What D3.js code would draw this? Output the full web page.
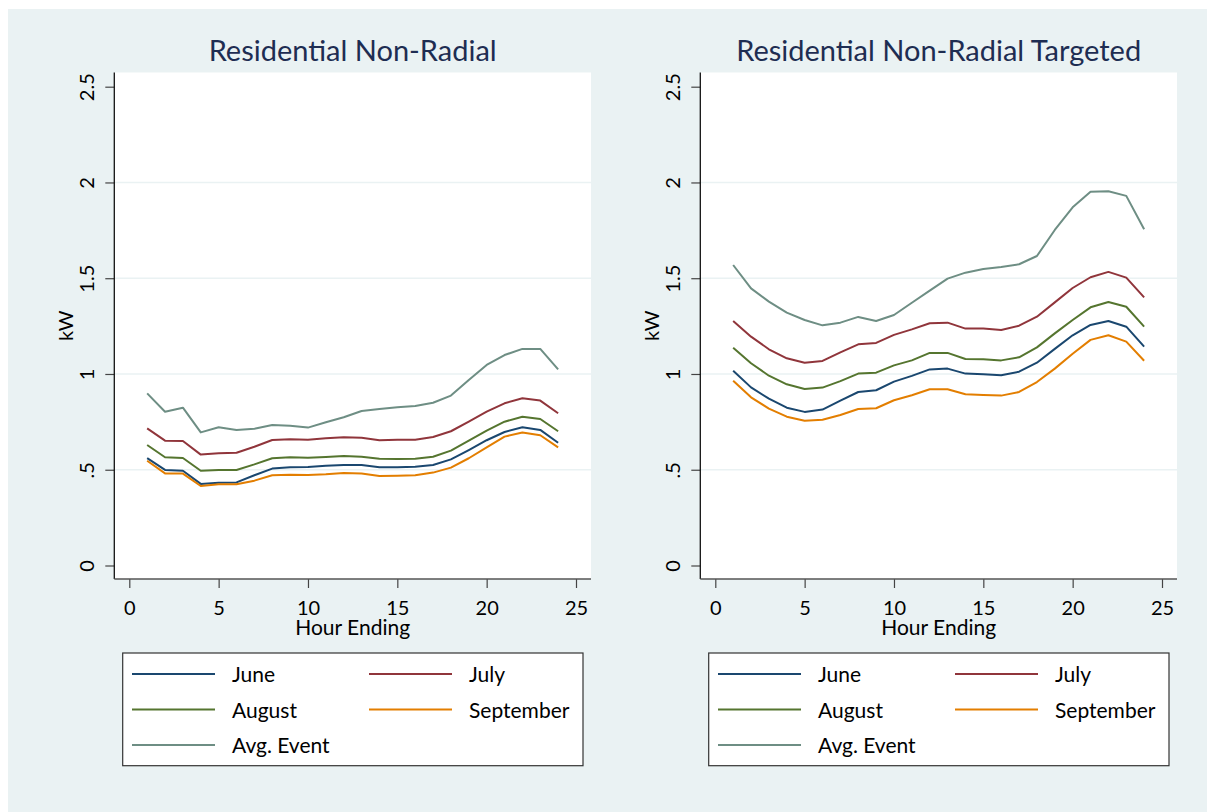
<!DOCTYPE html>
<html>
<head>
<meta charset="utf-8">
<script src="https://cdn.jsdelivr.net/npm/d3@7"></script>
<style>
	html, body { margin: 0; padding: 0; background: #fff; }
	svg { display: block; font-family: Lato, "Open Sans", sans-serif; }
</style>
</head>
<body>
<div id="chart"></div>
<script>
var hours = d3.range(1, 25);
var seriesNames = ['June', 'July', 'August', 'September', 'Avg. Event'];
var seriesColors = ['#1a476f', '#90353b', '#55752f', '#e37e00', '#6e8e84'];
var panelTitles = ['Residential Non-Radial', 'Residential Non-Radial Targeted'];
var xTicks = [0, 5, 10, 15, 20, 25];
var yTicks = [0, 0.5, 1, 1.5, 2, 2.5];
var yTickLabels = ['0', '.5', '1', '1.5', '2', '2.5'];
var yGrid = [0.5, 1, 1.5, 2];

// Residential Non-Radial
var nrJune = [0.561, 0.499, 0.495, 0.426, 0.432, 0.434, 0.471, 0.506, 0.513, 0.514, 0.521, 0.525,
	0.525, 0.513, 0.513, 0.516, 0.525, 0.554, 0.603, 0.654, 0.697, 0.722, 0.708, 0.641];
var nrJuly = [0.716, 0.652, 0.650, 0.579, 0.586, 0.589, 0.620, 0.655, 0.659, 0.657, 0.664, 0.669,
	0.667, 0.654, 0.657, 0.657, 0.671, 0.701, 0.751, 0.803, 0.847, 0.873, 0.861, 0.795];
var nrAugust = [0.629, 0.565, 0.561, 0.495, 0.499, 0.499, 0.528, 0.560, 0.565, 0.563, 0.567, 0.572,
	0.568, 0.558, 0.556, 0.558, 0.568, 0.600, 0.652, 0.704, 0.751, 0.777, 0.765, 0.701];
var nrSeptember = [0.547, 0.481, 0.480, 0.415, 0.424, 0.424, 0.443, 0.471, 0.474, 0.473, 0.476, 0.483,
	0.480, 0.467, 0.469, 0.471, 0.485, 0.511, 0.560, 0.617, 0.673, 0.694, 0.680, 0.617];
var nrEvent = [0.899, 0.803, 0.824, 0.695, 0.722, 0.708, 0.714, 0.734, 0.730, 0.720, 0.748, 0.774,
	0.807, 0.817, 0.826, 0.833, 0.850, 0.887, 0.969, 1.047, 1.099, 1.131, 1.131, 1.024];

// Residential Non-Radial Targeted
var tgJune = [1.017, 0.930, 0.871, 0.824, 0.802, 0.814, 0.861, 0.906, 0.915, 0.960, 0.990, 1.024,
	1.028, 1.002, 0.998, 0.993, 1.012, 1.059, 1.131, 1.202, 1.256, 1.277, 1.247, 1.143];
var tgJuly = [1.277, 1.195, 1.129, 1.082, 1.059, 1.068, 1.113, 1.155, 1.162, 1.204, 1.233, 1.265,
	1.268, 1.237, 1.237, 1.230, 1.252, 1.299, 1.374, 1.449, 1.505, 1.533, 1.503, 1.400];
var tgAugust = [1.137, 1.056, 0.991, 0.946, 0.922, 0.929, 0.963, 1.002, 1.007, 1.045, 1.071, 1.110,
	1.110, 1.078, 1.077, 1.071, 1.087, 1.139, 1.212, 1.282, 1.348, 1.376, 1.351, 1.247];
var tgSeptember = [0.965, 0.878, 0.819, 0.777, 0.756, 0.761, 0.786, 0.817, 0.821, 0.863, 0.889, 0.920,
	0.920, 0.894, 0.890, 0.887, 0.906, 0.958, 1.028, 1.106, 1.178, 1.202, 1.169, 1.069];
var tgEvent = [1.569, 1.447, 1.378, 1.320, 1.282, 1.254, 1.268, 1.298, 1.277, 1.308, 1.372, 1.435,
	1.498, 1.529, 1.548, 1.559, 1.573, 1.616, 1.752, 1.870, 1.952, 1.954, 1.930, 1.756];

var panels = [
	{ title: panelTitles[0], series: [nrJune, nrJuly, nrAugust, nrSeptember, nrEvent], dx: 0 },
	{ title: panelTitles[1], series: [tgJune, tgJuly, tgAugust, tgSeptember, tgEvent], dx: 586 }
];

var W = 1207, H = 812;
var svg = d3.select('#chart').append('svg')
	.attr('width', W)
	.attr('height', H);

// graph region
svg.append('rect')
	.attr('x', 8).attr('y', 9)
	.attr('width', W - 8).attr('height', H - 9)
	.attr('fill', '#eaf2f3');

function drawPanel(p) {
	var plot = { left: 114.3 + p.dx, right: 591 + p.dx, top: 72.5, bottom: 579 };
	var x = d3.scaleLinear().domain([0, 25]).range([129.3 + p.dx, 576 + p.dx]);
	var y = d3.scaleLinear().domain([0, 2.5]).range([565.5, 86.7]);
	var cx = (plot.left + plot.right) / 2;

	var g = svg.append('g');

	g.append('rect')
		.attr('x', plot.left).attr('y', plot.top)
		.attr('width', plot.right - plot.left)
		.attr('height', plot.bottom - plot.top)
		.attr('fill', '#fff');

	g.selectAll('.grid').data(yGrid).enter()
		.append('line')
		.attr('class', 'grid')
		.attr('x1', plot.left).attr('x2', plot.right)
		.attr('y1', function(d) { return y(d); })
		.attr('y2', function(d) { return y(d); })
		.style('stroke', '#eaf2f3')
		.style('stroke-width', 1.6);

	// y axis
	var yAxis = g.append('g')
		.attr('transform', 'translate(' + plot.left + ',0)')
		.call(d3.axisLeft(y).tickValues(yTicks).tickSize(9).tickFormat(function(d, i) { return yTickLabels[i]; }));
	yAxis.select('.domain').remove();
	yAxis.selectAll('.tick line').style('stroke', '#444').style('stroke-width', 1.2);
	yAxis.selectAll('.tick text')
		.attr('x', null).attr('dy', null)
		.attr('transform', 'translate(-20,0) rotate(-90)')
		.style('text-anchor', 'middle')
		.style('font-family', 'Lato, sans-serif')
		.style('font-size', '20px')
		.style('fill', '#000');

	// x axis
	var xAxis = g.append('g')
		.attr('transform', 'translate(0,' + plot.bottom + ')')
		.call(d3.axisBottom(x).tickValues(xTicks).tickSize(9));
	xAxis.select('.domain').remove();
	xAxis.selectAll('.tick line').style('stroke', '#444').style('stroke-width', 1.2);
	xAxis.selectAll('.tick text')
		.attr('y', 36).attr('dy', null)
		.style('font-family', 'Lato, sans-serif')
		.style('font-size', '20px')
		.style('fill', '#000');

	g.append('line')
		.attr('x1', plot.left).attr('x2', plot.left)
		.attr('y1', plot.top).attr('y2', plot.bottom)
		.style('stroke', '#111').style('stroke-width', 1.3);
	g.append('line')
		.attr('x1', plot.left).attr('x2', plot.right)
		.attr('y1', plot.bottom).attr('y2', plot.bottom)
		.style('stroke', '#555').style('stroke-width', 1.3);

	// series
	var line = d3.line()
		.x(function(d, i) { return x(hours[i]); })
		.y(function(d) { return y(d); });
	p.series.forEach(function(s, k) {
		g.append('path')
			.datum(s)
			.attr('d', line)
			.style('fill', 'none')
			.style('stroke', seriesColors[k])
			.style('stroke-width', 2)
			.style('stroke-linejoin', 'round');
	});

	// titles
	g.append('text')
		.attr('x', cx).attr('y', 61)
		.attr('text-anchor', 'middle')
		.style('font-size', '29px')
		.style('fill', '#1e2d52')
		.text(p.title);
	g.append('text')
		.attr('x', cx).attr('y', 635)
		.attr('text-anchor', 'middle')
		.style('font-size', '21px')
		.style('fill', '#000')
		.text('Hour Ending');
	g.append('text')
		.attr('transform', 'translate(' + (73 + p.dx) + ',' + ((plot.top + plot.bottom) / 2) + ') rotate(-90)')
		.attr('text-anchor', 'middle')
		.style('font-size', '20px')
		.style('fill', '#000')
		.text('kW');

	// legend
	var lg = g.append('g').attr('transform', 'translate(' + (122.7 + p.dx) + ',653)');
	lg.append('rect')
		.attr('width', 460.3).attr('height', 112.7)
		.attr('fill', '#fff')
		.style('stroke', '#333').style('stroke-width', 1.2);
	var items = lg.selectAll('.item').data(seriesNames).enter()
		.append('g')
		.attr('class', 'item')
		.attr('transform', function(d, i) {
			return 'translate(' + (i % 2 === 0 ? 9.3 : 246.3) + ',' + (21 + Math.floor(i / 2) * 35.5) + ')';
		});
	items.append('line')
		.attr('x1', 0).attr('x2', 83)
		.style('stroke', function(d, i) { return seriesColors[i]; })
		.style('stroke-width', 2);
	items.append('text')
		.attr('x', 100).attr('y', 8)
		.style('font-size', '21px')
		.style('fill', '#000')
		.text(function(d) { return d; });
}

panels.forEach(drawPanel);
</script>
</body>
</html>
